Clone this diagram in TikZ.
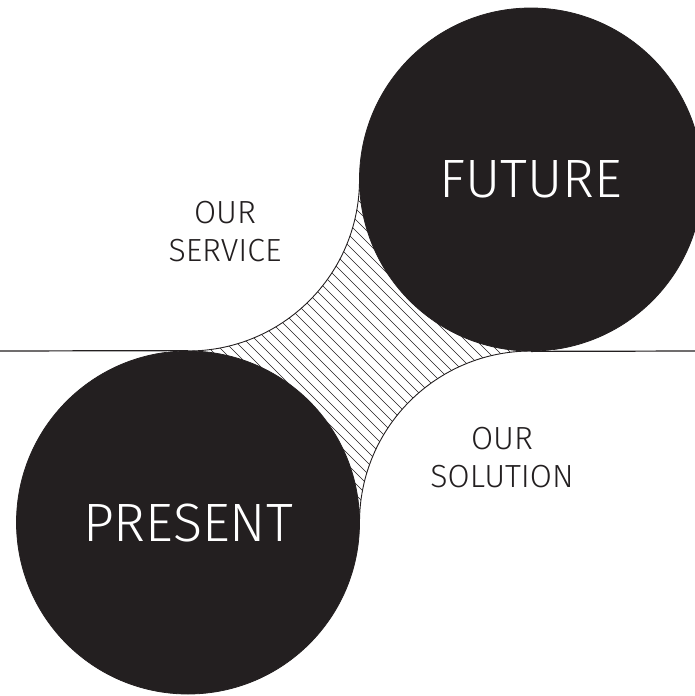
\documentclass[tikz,border=0pt]{standalone}
\usepackage{fontspec}
\setmainfont{Fira Sans Light}
\definecolor{blk}{HTML}{231F20}
\begin{document}
\begin{tikzpicture}[x=1pt,y=-1pt,
  bigcircle/.style={circle,fill=blk,draw=blk,line width=0.8pt,minimum size=343pt,inner sep=0pt,text=white,font=\fontsize{54}{60}\selectfont},
  label/.style={align=center,text=blk,font=\fontsize{32}{38}\selectfont},
  hatchline/.style={line width=0.7pt,draw=blk},
  arcline/.style={line width=0.9pt,draw=blk}]
\useasboundingbox (0,0) rectangle (695,696);
% centres of the four tangent circles
\coordinate (sqA) at (188,179.5);
\coordinate (sqB) at (531,522.5);
\coordinate (sqC) at (188,522.5);
\coordinate (sqD) at (531,179.5);
% hatched core between the four circles
\begin{scope}
  \clip (sqA) ++(0,171.5)
     arc[start angle=90,end angle=0,radius=171.5]
     arc[start angle=180,end angle=90,radius=171.5]
     arc[start angle=270,end angle=180,radius=171.5]
     arc[start angle=360,end angle=270,radius=171.5] -- cycle;
  \foreach \k in {-700,-689,...,700}
    \draw[hatchline] (\k,0) -- (\k+700,700);
\end{scope}
\draw[arcline] (sqA) ++(0,171.5) arc[start angle=90,end angle=0,radius=171.5];
\draw[arcline] (sqB) ++(0,-171.5) arc[start angle=270,end angle=180,radius=171.5];
% horizon line
\coordinate (lineL) at (0,351);
\coordinate (lineR) at (695,351);
% big circles
\node[bigcircle] (present) at (sqC) {PRESENT};
\node[bigcircle] (future) at (sqD) {FUTURE};
\draw[line width=1.2pt,blk] (lineL) -- (present.north);
\draw[line width=1.2pt,blk] (future.south) -- (lineR);
% labels
\node[label] (service) at (225,232) {OUR\\SERVICE};
\node[label] (solution) at (502,458) {OUR\\SOLUTION};
\end{tikzpicture}
\end{document}
